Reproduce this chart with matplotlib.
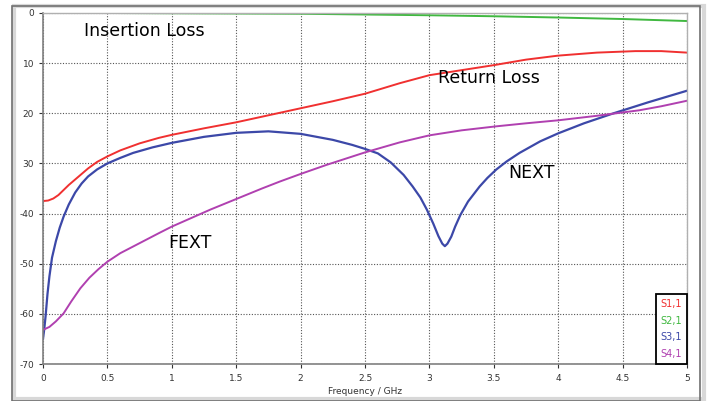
import numpy as np
import matplotlib
matplotlib.use("Agg")
import matplotlib.pyplot as plt
from matplotlib.patches import Rectangle

# values (dB vs GHz)
freq_il = [0, 0.5, 1.0, 1.5, 2.0, 2.5, 3.0, 3.5, 4.0, 4.5, 5.0]
s21 = [0, 0, -0.05, -0.1, -0.15, -0.3, -0.45, -0.65, -0.9, -1.2, -1.6]

freq_rl = [0, 0.04, 0.08, 0.12, 0.16, 0.2, 0.25, 0.3, 0.35, 0.42, 0.5, 0.6,
           0.75, 0.9, 1.0, 1.25, 1.5, 1.75, 2.0, 2.25, 2.5, 2.77, 3.0, 3.25,
           3.5, 3.75, 4.0, 4.3, 4.6, 4.8, 5.0]
s11 = [-37.5, -37.4, -37.0, -36.3, -35.3, -34.3, -33.2, -32.1, -31.0, -29.7,
       -28.6, -27.4, -26.0, -24.9, -24.3, -23.0, -21.8, -20.4, -19.0, -17.6,
       -16.1, -14.0, -12.4, -11.4, -10.4, -9.3, -8.5, -7.9, -7.6, -7.6, -7.9]

freq_next = [0, 0.01, 0.02, 0.035, 0.05, 0.07, 0.1, 0.13, 0.16, 0.2, 0.25,
             0.3, 0.35, 0.42, 0.5, 0.6, 0.7, 0.85, 1.0, 1.25, 1.5, 1.75, 2.0,
             2.25, 2.4, 2.5, 2.6, 2.7, 2.8, 2.87, 2.93, 2.98, 3.03, 3.07, 3.1,
             3.12, 3.14, 3.17, 3.2, 3.24, 3.3, 3.39, 3.45, 3.52, 3.6, 3.7,
             3.86, 4.0, 4.2, 4.43, 4.7, 5.0]
s31 = [-65, -63, -60.5, -56, -52.5, -48.8, -45.5, -42.8, -40.6, -38.2, -35.8,
       -34.0, -32.6, -31.2, -30.0, -28.9, -27.9, -26.8, -25.9, -24.7, -23.9,
       -23.6, -24.1, -25.3, -26.3, -27.1, -28.0, -29.8, -32.3, -34.6, -36.8,
       -39.2, -42.0, -44.5, -46.0, -46.5, -46.0, -44.6, -42.6, -40.3, -37.6,
       -34.6, -32.9, -31.2, -29.6, -27.9, -25.6, -24.0, -22.0, -20.0, -17.8,
       -15.5]

freq_fext = [0, 0.05, 0.1, 0.16, 0.22, 0.29, 0.36, 0.43, 0.5, 0.6, 0.75, 0.9,
             1.0, 1.15, 1.3, 1.5, 1.7, 1.84, 2.0, 2.2, 2.5, 2.77, 3.0, 3.25,
             3.52, 3.75, 4.0, 4.3, 4.63, 4.8, 5.0]
s41 = [-63.2, -62.6, -61.5, -59.9, -57.5, -54.9, -52.8, -51.1, -49.6, -47.9,
       -45.9, -43.9, -42.6, -40.9, -39.2, -37.1, -35.0, -33.6, -32.1, -30.3,
       -27.8, -25.8, -24.4, -23.4, -22.6, -22.0, -21.4, -20.5, -19.4, -18.6,
       -17.5]

legend_labels = ["S1,1", "S2,1", "S3,1", "S4,1"]
colors = ["#f03030", "#40b840", "#3c48a8", "#b040b0"]

ytick_vals = [0, -10, -20, -30, -40, -50, -60, -70]
ytick_text = ["0", "10", "20", "30", "-40", "-50", "-60", "-70"]
xtick_vals = [0, 0.5, 1, 1.5, 2, 2.5, 3, 3.5, 4, 4.5, 5]
xtick_text = ["0", "0.5", "1", "1.5", "2", "2.5", "3", "3.5", "4", "4.5", "5"]

fig = plt.figure(figsize=(7.09, 4.01), dpi=100, facecolor="white")

# outer frame with a soft shadow
fig.patches.append(Rectangle((14 / 709, 0.005), 690 / 709, 1 - 8 / 401,
                             transform=fig.transFigure, fill=False,
                             ec="#d8d8d8", lw=3, zorder=0))
fig.patches.append(Rectangle((12 / 709, 0.0), 688 / 709, 1 - 6 / 401,
                             transform=fig.transFigure, fill=False,
                             ec="#707070", lw=1.2, zorder=1))

ax = fig.add_axes([43 / 709, 37 / 401, 644 / 709, 351 / 401])
ax.plot(freq_il, s21, color=colors[1], lw=1.4, label=legend_labels[1])
ax.plot(freq_rl, s11, color=colors[0], lw=1.4, label=legend_labels[0])
ax.plot(freq_next, s31, color=colors[2], lw=1.6, label=legend_labels[2])
ax.plot(freq_fext, s41, color=colors[3], lw=1.4, label=legend_labels[3])

ax.set_xlim(0, 5)
ax.set_ylim(-70, 0)
ax.set_xticks(xtick_vals)
ax.set_xticklabels(xtick_text)
ax.set_yticks(ytick_vals)
ax.set_yticklabels(ytick_text)
ax.tick_params(labelsize=6.5, colors="#333333", length=3, width=0.8)
ax.tick_params(axis="x", pad=4)
ax.grid(True, color="#555555", ls=(0, (1, 1.5)), lw=0.8)
for side in ["left", "bottom"]:
    ax.spines[side].set_color("#808080")
    ax.spines[side].set_linewidth(1.2)
for side in ["top", "right"]:
    ax.spines[side].set_color("#b0b0b0")
    ax.spines[side].set_linewidth(1.0)
ax.set_xlabel("Frequency / GHz", fontsize=6.5, color="#333333", labelpad=3)

ax.text(0.79, -3.6, "Insertion Loss", fontsize=12.5, ha="center", va="center")
ax.text(3.46, -13.0, "Return Loss", fontsize=12.5, ha="center", va="center")
ax.text(3.79, -32.0, "NEXT", fontsize=12.5, ha="center", va="center")
ax.text(1.14, -45.9, "FEXT", fontsize=12.5, ha="center", va="center")

# legend: coloured text only, black box
handles, labels = ax.get_legend_handles_labels()
order = [labels.index(l) for l in legend_labels]
leg = ax.legend([handles[i] for i in order], [labels[i] for i in order],
                loc="lower right", fontsize=7, handlelength=0,
                handletextpad=0, borderaxespad=0.05, framealpha=1,
                fancybox=False, edgecolor="black", labelspacing=0.7,
                borderpad=0.45)
leg.get_frame().set_linewidth(1.3)
for h in leg.legend_handles:
    h.set_visible(False)
for t, c in zip(leg.get_texts(), colors):
    t.set_color(c)

fig.savefig("out.png", dpi=100, facecolor="white")
